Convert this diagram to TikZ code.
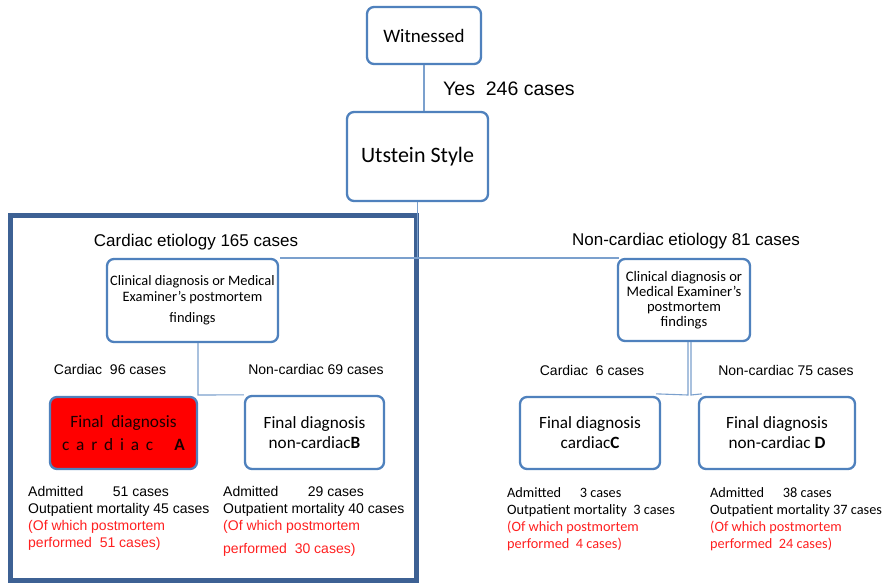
\documentclass[tikz,border=0pt]{standalone}
\usepackage{fontspec}
\setmainfont{Liberation Sans}
\newfontfamily\calib{Carlito}
\usetikzlibrary{calc}
\definecolor{boxblue}{HTML}{4F81BD}
\definecolor{linkblue}{HTML}{7BA0CD}
\definecolor{frameblue}{HTML}{3D6194}
\definecolor{redtxt}{HTML}{FF2020}
\definecolor{darktxt}{HTML}{1A0000}
\tikzset{
  x=1pt, y=-1pt,
  rbox/.style={draw=boxblue, line width=2.3pt, rounded corners=7pt, fill=white, inner sep=0pt, align=center},
  link/.style={draw=linkblue, line width=1.1pt},
  lab/.style={inner sep=0pt, font=\fontsize{14}{17}\selectfont},
  biglab/.style={inner sep=0pt, font=\fontsize{17}{20}\selectfont},
  block/.style={inner sep=0pt, anchor=north west, align=left, font=\fontsize{14}{17}\selectfont},
  cblock/.style={inner sep=0pt, anchor=north west, align=left, font=\calib\fontsize{14.3}{17}\selectfont},
}
\begin{document}
\begin{tikzpicture}
\useasboundingbox[fill=white] (0,0) rectangle (886,582);

% thick frame
\draw[frameblue, line width=5pt] (10,215) rectangle (416,580);

% boxes
\node[rbox, minimum width=114pt, minimum height=57pt, font=\calib\fontsize{19}{22}\selectfont] (W) at (424,35.5) {Witnessed};
\node[rbox, minimum width=141pt, minimum height=89pt, font=\calib\fontsize{22}{26}\selectfont] (U) at (417.5,156.5) {Utstein Style};
\node[rbox, minimum width=171pt, minimum height=83pt, font=\calib\fontsize{14.4}{16}\selectfont] (LC) at (192.5,300.5) {Clinical diagnosis or Medical\\Examiner’s postmortem\\[5pt]findings};
\node[rbox, minimum width=132pt, minimum height=82pt, font=\calib\fontsize{14.6}{15}\selectfont] (RC) at (684,300) {Clinical diagnosis or\\Medical Examiner’s\\postmortem\\findings};
\node[rbox, fill=red, minimum width=147pt, minimum height=72pt, font=\calib\fontsize{17.3}{23}\selectfont, text=darktxt] (A) at (123.5,433) {\rule{0pt}{6pt}Final\ \ diagnosis\\c\,\ a\,\ r\,\ d\,\ i\,\ a\,\ c\quad\ \textbf{A}};
\node[rbox, minimum width=139pt, minimum height=73pt, font=\calib\fontsize{17.2}{20}\selectfont] (B) at (314.5,432.5) {Final diagnosis\\non-cardiac\textbf{B}};
\node[rbox, minimum width=140pt, minimum height=72pt, font=\calib\fontsize{17.2}{20}\selectfont] (C) at (590,433) {Final diagnosis\\cardiac\textbf{C}};
\node[rbox, minimum width=156pt, minimum height=72pt, font=\calib\fontsize{17.2}{20}\selectfont] (D) at (777,433) {Final diagnosis\\non-cardiac \textbf{D}};

% join coordinates
\coordinate (lj) at (198,395);
\coordinate (rjc) at (688,395);
\coordinate (rjd) at (691,395);
\coordinate (hl) at (280,258);
\coordinate (hr) at (619,258);

% connectors
\draw[link] (W.south) -- (W.south |- U.north);
\draw[link] (U.south) -- (U.south |- hl);
\draw[link] (hl) -- (hr);
\draw[link] (LC.south -| lj) -- (lj) -- (B.north west);
\draw[link] (RC.south -| rjc) -- (rjc) -- ($(C.north east)+(-5,-2)$);
\draw[link] (RC.south -| rjd) -- (rjd) -- ($(D.north west)+(4,-2)$);

% labels
\node[inner sep=0pt, font=\fontsize{19.5}{22}\selectfont] (yes) at (509,89) {Yes\ \ 246 cases};
\node[biglab] (ce) at (196,242) {Cardiac etiology 165 cases};
\node[biglab] (nce) at (686,241) {Non-cardiac etiology 81 cases};
\node[lab] (c96) at (110,369) {Cardiac\ \ 96 cases};
\node[lab] (n69) at (316,369) {Non-cardiac 69 cases};
\node[lab] (c6) at (592,370) {Cardiac\ \ 6 cases};
\node[lab] (n75) at (786,370) {Non-cardiac 75 cases};

% result blocks
\node[block] (ra) at (28,486) {Admitted\hspace{2.1em}51 cases\\Outpatient mortality 45 cases\\\textcolor{redtxt}{(Of which postmortem}\\\textcolor{redtxt}{performed\ \ 51 cases)}};
\node[block] (rb) at (223,486) {Admitted\hspace{2.1em}29 cases\\Outpatient mortality 40 cases\\\textcolor{redtxt}{(Of which postmortem}\\[6pt]\textcolor{redtxt}{performed\ \ 30 cases)}};
\node[cblock] (rc) at (507,487.5) {Admitted\hspace{1.3em}3 cases\\Outpatient mortality\ \ 3 cases\\\textcolor{redtxt}{(Of which postmortem}\\\textcolor{redtxt}{performed\ \ 4 cases)}};
\node[cblock] (rd) at (710,487.5) {Admitted\hspace{1.3em}38 cases\\Outpatient mortality 37 cases\\\textcolor{redtxt}{(Of which postmortem}\\\textcolor{redtxt}{performed\ \ 24 cases)}};
\end{tikzpicture}
\end{document}
